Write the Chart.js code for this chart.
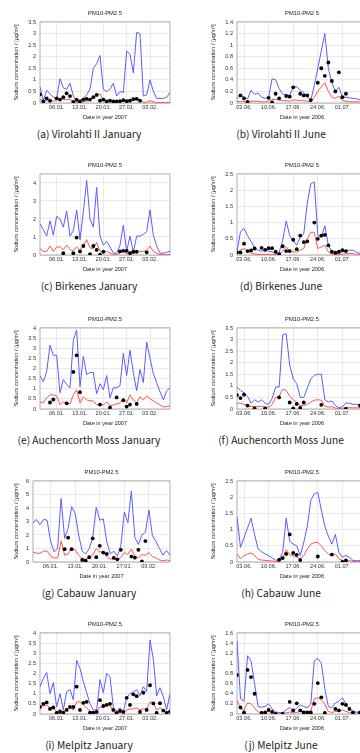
<!DOCTYPE html>
<html>
<head>
<title>Sodium concentration PM10-PM2.5</title>
<script src="https://cdn.jsdelivr.net/npm/chart.js"></script>
<style>
  body { margin: 0; width: 360px; height: 753px; overflow: hidden; background: #fff; position: relative; }
  .panel { position: absolute; width: 180px; height: 122px; }
  .cap { position: absolute; width: 200px; text-align: center; font-family: "Noto Sans CJK KR", "Noto Sans", sans-serif;
         font-size: 10.2px; line-height: 14px; color: #222; white-space: nowrap; }
</style>
</head>
<body>
<script>
// days along the x axis (January runs into February, June into July)
const janDays = [1,2,3,4,5,6,7,8,9,10,11,12,13,14,15,16,17,18,19,20,21,22,23,24,25,26,27,28,29,30,31,32,33,34,35,36,37,38,39,40];
const junDays = [1,2,3,4,5,6,7,8,9,10,11,12,13,14,15,16,17,18,19,20,21,22,23,24,25,26,27,28,29,30,31,32,33,34,35,36,37,38];
const janTickDays = [6,13,20,27,34];
const janTickLabels = ['06.01.','13.01.','20.01.','27.01.','03.02.'];
const junTickDays = [3,10,17,24,31];
const junTickLabels = ['03.06.','10.06.','17.06.','24.06.','01.07.'];

// Virolahti II
const virJanHi = [0.7,0.1,0.55,0.4,0.25,0.2,1.05,0.65,0.6,0.85,0.3,0.05,0.1,0.2,0.35,0.6,1.5,1.7,2.05,0.6,0.5,0.6,0.85,0.3,0.5,0.45,2.25,2.1,1.3,3.05,3.0,0.3,0.35,1.0,0.5,0.2,0.2,0.2,0.25,0.45];
const virJanLo = [0.15,0.1,0.1,0.08,0.08,0.12,0.2,0.15,0.15,0.15,0.05,0.02,0.03,0.05,0.08,0.12,0.25,0.32,0.4,0.1,0.08,0.08,0.1,0.05,0.08,0.07,0.12,0.12,0.1,0.15,0.15,0.03,0.03,0.1,0.05,0.02,0.02,0.02,0.02,0.03];
const virJanObsDay = [1,2,3,4,6,7,8,9,10,11,12,13,14,15,16,17,18,19,20,21,22,23,24,25,26,27,28,29,30,31];
const virJanObs = [0.37,0.07,0.2,0.1,0.2,0.15,0.25,0.42,0.3,0.05,0.15,0.07,0.15,0.18,0.15,0.25,0.35,0.1,0.15,0.07,0.1,0.07,0.07,0.08,0.12,0.08,0.1,0.17,0.18,0.1];
const virJunHi = [0.08,0.13,0.1,0.07,0.22,0.15,0.17,0.1,0.08,0.1,0.42,0.4,0.25,0.15,0.15,0.13,0.28,0.28,0.22,0.18,0.1,0.05,0.3,0.6,0.9,1.2,0.6,0.35,0.2,0.27,0.1,0.1,0.09,0.08,0.07,0.06,0.05,0.05];
const virJunLo = [0.02,0.03,0.03,0.02,0.03,0.03,0.03,0.02,0.02,0.03,0.06,0.06,0.05,0.04,0.04,0.03,0.05,0.05,0.04,0.04,0.03,0.02,0.1,0.2,0.28,0.35,0.2,0.1,0.08,0.12,0.04,0.03,0.02,0.02,0.02,0.02,0.02,0.02];
const virJunObsDay = [2,3,4,10,11,12,13,15,16,17,19,20,21,22,24,25,26,27,28,29,30,31,32];
const virJunObs = [0.13,0.08,0.02,0.09,0.01,0.16,0.08,0.12,0.11,0.27,0.16,0.13,0.13,0.05,0.35,0.6,0.47,0.7,0.38,0.2,0.53,0.1,0.16];

// Birkenes
const birJanHi = [1.75,1.4,1.05,1.9,1.1,2.15,2.0,1.55,2.45,1.05,1.35,2.5,0.85,2.4,4.15,2.0,1.55,3.75,1.05,0.55,0.75,0.45,0.1,0.1,0.55,1.65,0.2,1.05,0.15,1.05,1.05,1.15,1.3,2.5,1.1,0.5,0.1,0.1,0.15,0.2];
const birJanLo = [0.35,0.2,0.2,0.5,0.2,0.45,0.45,0.3,0.55,0.3,0.25,0.45,0.25,0.5,0.85,0.4,0.35,0.7,0.2,0.15,0.2,0.1,0.02,0.02,0.1,0.3,0.05,0.2,0.05,0.2,0.2,0.2,0.25,0.5,0.2,0.1,0.02,0.02,0.02,0.02];
const birJanObsDay = [8,11,12,13,14,16,17,18,19,20,25,26,27,28,29,30,33];
const birJanObs = [0.1,0.1,0.97,0.2,0.5,0.05,0.5,0.28,0.02,0.18,0.2,0.23,0.23,0.1,0.18,0.18,0.15];
const birJunHi = [0.1,0.72,0.82,0.6,0.42,0.22,0.15,0.12,0.15,0.12,0.1,0.05,0.08,0.45,1.05,0.6,0.45,0.3,0.55,0.65,1.6,2.2,2.25,0.6,0.55,0.9,0.3,0.1,0.05,0.05,0.1,0.13,0.15,0.15,0.08,0.05,0.05,0.05];
const birJunLo = [0.05,0.15,0.2,0.12,0.06,0.03,0.02,0.02,0.02,0.02,0.02,0.02,0.02,0.12,0.25,0.12,0.1,0.08,0.15,0.2,0.5,0.7,0.7,0.2,0.25,0.3,0.1,0.03,0.02,0.02,0.02,0.04,0.05,0.04,0.02,0.02,0.02,0.02];
const birJunObsDay = [1,2,3,4,5,6,8,9,10,11,12,13,14,15,16,17,18,19,20,21,23,24,25,26,27,28,29,30,31,32];
const birJunObs = [0.08,0.08,0.35,0.12,0.14,0.2,0.22,0.16,0.21,0.21,0.1,0.03,0.27,0.12,0.12,0.47,0.18,0.6,0.4,0.42,1.0,0.5,0.6,0.62,0.3,0.1,0.07,0.1,0.15,0.12];

// Auchencorth Moss
const aucJanHi = [1.65,1.35,1.85,3.15,2.65,2.65,0.8,1.45,1.2,1.05,3.4,3.9,1.1,2.6,1.7,1.8,1.8,0.75,1.25,0.95,1.65,0.55,1.05,1.05,1.15,2.75,1.65,2.9,1.8,0.9,1.95,1.3,3.3,2.5,1.75,1.3,0.85,0.45,0.9,1.05];
const aucJanLo = [0.35,0.3,0.55,0.7,0.7,0.65,0.2,0.35,0.3,0.25,0.7,0.95,0.3,0.6,0.45,0.4,0.4,0.2,0.25,0.2,0.35,0.15,0.2,0.25,0.3,0.55,0.3,0.7,0.45,0.3,0.6,0.45,0.65,0.5,0.4,0.3,0.2,0.1,0.12,0.15];
const aucJanObsDay = [4,5,9,11,12,13,19,22,24,26,27,28,30];
const aucJanObs = [0.32,0.47,0.28,1.83,2.65,0.83,0.22,0.07,0.57,0.43,0.12,0.22,0.25];
const aucJunHi = [0.95,0.8,0.7,0.55,0.25,0.4,0.3,0.4,0.25,0.2,0.45,0.95,0.95,3.2,3.25,1.9,1.3,1.1,0.5,0.5,0.9,1.3,1.45,1.5,1.5,0.4,0.3,0.35,0.15,0.05,0.1,0.25,0.25,0.2,0.2,0.2,0.18,0.18];
const aucJunLo = [0.25,0.25,0.2,0.15,0.1,0.12,0.1,0.12,0.08,0.08,0.2,0.5,0.55,0.85,0.8,0.55,0.4,0.3,0.15,0.15,0.2,0.3,0.38,0.4,0.38,0.12,0.08,0.1,0.04,0.02,0.03,0.06,0.06,0.05,0.05,0.05,0.05,0.05];
const aucJunObsDay = [1,2,3,4,6,9,13,16,17,18,19,20,25,32,36];
const aucJunObs = [0.6,0.47,0.62,0.15,0.03,0.03,0.5,0.28,0.03,0.22,0.05,0.28,0.18,0.0,0.15];

// Cabauw
const cabJanHi = [2.9,3.15,2.75,3.15,3.1,1.55,0.75,1.0,4.7,1.75,2.5,4.1,3.6,2.0,0.8,0.6,1.0,1.8,4.05,3.1,3.2,1.5,0.6,0.8,0.45,1.2,3.7,2.9,5.25,1.8,1.3,2.0,2.2,3.85,1.95,1.5,1.0,0.5,0.85,0.5];
const cabJanLo = [0.75,0.65,0.65,0.8,0.8,0.45,0.3,0.3,1.55,0.5,0.6,1.0,0.9,0.5,0.25,0.2,0.35,0.5,1.0,0.75,0.75,0.4,0.2,0.3,0.15,0.35,0.7,0.55,0.95,0.45,0.3,0.55,0.5,0.7,0.4,0.3,0.15,0.1,0.15,0.1];
const cabJanObsDay = [10,11,12,15,16,17,18,19,20,21,22,24,25,26,29,30,31,32,33];
const cabJanObs = [0.95,1.8,0.95,0.15,0.1,0.35,1.75,0.35,1.2,0.7,0.6,0.3,0.2,0.9,0.4,0.32,0.9,0.05,1.55];
const cabJunHi = [1.4,0.45,0.75,1.05,1.35,0.85,0.4,0.32,0.25,0.2,0.12,0.06,0.05,0.3,1.35,0.65,0.55,0.5,0.2,0.6,1.1,1.9,2.1,2.15,1.6,1.1,0.8,0.55,0.85,0.3,0.15,0.2,0.15,0.05,0.04,0.04,0.04,0.04];
const cabJunLo = [0.25,0.1,0.2,0.25,0.28,0.2,0.08,0.06,0.05,0.04,0.03,0.02,0.02,0.1,0.38,0.22,0.2,0.15,0.1,0.2,0.4,0.55,0.6,0.6,0.5,0.35,0.25,0.2,0.25,0.1,0.05,0.05,0.04,0.02,0.02,0.02,0.02,0.02];
const cabJunObsDay = [13,14,15,16,17,18,19,24,28,31,32];
const cabJunObs = [0.07,0.12,0.25,0.85,0.28,0.22,0.06,0.17,0.23,0.0,0.05];

// Melpitz
const melJanHi = [1.35,1.75,2.05,1.0,1.55,0.35,1.0,0.2,1.1,1.2,0.7,2.65,2.25,1.6,1.05,0.5,0.2,0.2,1.7,1.05,2.0,1.85,0.3,0.15,0.3,0.1,0.8,1.0,1.1,1.2,0.9,1.35,1.1,3.65,2.7,0.9,1.3,0.85,0.2,1.0];
const melJanLo = [0.35,0.4,0.45,0.3,0.35,0.1,0.25,0.1,0.25,0.3,0.2,0.6,0.6,0.45,0.3,0.15,0.1,0.1,0.35,0.3,0.5,0.45,0.1,0.05,0.1,0.05,0.2,0.25,0.25,0.3,0.2,0.25,0.25,0.6,0.55,0.2,0.3,0.2,0.05,0.2];
const melJanObsDay = [1,2,3,4,5,6,7,8,9,10,11,12,13,14,15,16,17,18,19,20,21,22,23,24,25,26,27,28,29,30,31,32,33,34,35,36,37,38,39,40];
const melJanObs = [0.35,0.5,0.57,0.25,0.32,0.05,0.1,0.07,0.2,0.35,0.35,1.35,0.2,0.55,0.6,0.07,0.07,0.1,0.68,0.4,0.45,0.5,0.2,0.05,0.15,0.1,0.8,0.45,0.97,0.88,0.1,1.05,0.2,1.42,0.52,0.05,0.53,0.17,0.05,0.12];
const melJunHi = [1.45,0.3,0.25,1.15,1.05,0.6,0.15,0.13,0.15,0.2,0.1,0.04,0.03,0.03,0.08,0.13,0.05,0.12,0.18,0.15,0.12,0.2,1.05,1.1,1.0,0.5,0.15,0.12,0.22,0.25,0.32,0.2,0.1,0.05,0.04,0.03,0.03,0.03];
const melJunLo = [0.28,0.1,0.08,0.22,0.2,0.12,0.04,0.03,0.04,0.05,0.03,0.02,0.02,0.02,0.02,0.04,0.02,0.03,0.05,0.05,0.04,0.06,0.3,0.32,0.28,0.2,0.05,0.03,0.05,0.06,0.08,0.05,0.03,0.02,0.02,0.02,0.02,0.02];
const melJunObsDay = [1,2,3,4,5,6,8,9,10,11,12,14,16,17,18,19,20,21,22,23,24,25,26,29,30,31,32,33,34,36];
const melJunObs = [0.77,0.13,0.03,0.87,0.73,0.4,0.02,0.03,0.08,0.04,0.0,0.0,0.24,0.07,0.21,0.07,0.03,0.03,0.03,0.2,0.61,0.33,0.02,0.1,0.07,0.2,0.18,0.1,0.03,0.03];

const SMALL = { family: '"Liberation Sans", Arial, sans-serif', size: 5.6 };
Chart.defaults.color = '#333';

// grey box around the plotting area
const frame = {
  id: 'frame',
  beforeDatasetsDraw(chart) {
    const a = chart.chartArea, ctx = chart.ctx;
    ctx.save();
    ctx.strokeStyle = '#9c9c9c';
    ctx.lineWidth = 0.8;
    ctx.strokeRect(a.left, a.top, a.right - a.left, a.bottom - a.top);
    ctx.restore();
  }
};

function pts(days, vals) {
  return vals.map((v, i) => ({ x: days[i], y: v }));
}

function panel(p) {
  const jan = p.month === 'jan';
  const days = jan ? janDays : junDays;
  const tickDays = jan ? janTickDays : junTickDays;
  const tickLabels = jan ? janTickLabels : junTickLabels;

  const box = document.createElement('div');
  box.className = 'panel';
  box.style.left = p.left + 'px';
  box.style.top = p.top + 'px';
  const canvas = document.createElement('canvas');
  canvas.width = 180;
  canvas.height = 122;
  box.appendChild(canvas);
  document.body.appendChild(box);

  const cap = document.createElement('div');
  cap.className = 'cap';
  cap.textContent = p.caption;
  cap.style.left = (p.capX - 100) + 'px';
  cap.style.top = (p.top + 134 - 7) + 'px';
  document.body.appendChild(cap);

  new Chart(canvas.getContext('2d'), {
    type: 'line',
    data: {
      datasets: [
        { data: pts(p.obsDay, p.obs), showLine: false, pointRadius: 1.9, pointBackgroundColor: '#000',
          pointBorderWidth: 0, borderColor: '#000' },
        { data: pts(days, p.hi), borderColor: '#5c5cff', borderWidth: 1, pointRadius: 0, tension: 0 },
        { data: pts(days, p.lo), borderColor: '#ff5252', borderWidth: 1, pointRadius: 0, tension: 0 }
      ]
    },
    options: {
      responsive: false,
      animation: false,
      layout: { padding: { left: 0, right: 10, top: 0, bottom: 0 } },
      plugins: {
        legend: { display: false },
        tooltip: { enabled: false },
        title: { display: true, text: 'PM10-PM2.5', fullSize: false, color: '#222',
                 font: { family: SMALL.family, size: 5.8, weight: 'normal' }, padding: { top: 10, bottom: 5 } }
      },
      scales: {
        x: {
          type: 'linear', min: 1, max: jan ? 40 : 38,
          afterBuildTicks: s => { s.ticks = tickDays.map(v => ({ value: v })); },
          afterFit: s => { s.height = 19; },
          ticks: { font: SMALL, padding: 1.5, autoSkip: false, maxRotation: 0,
                   callback: v => tickLabels[tickDays.indexOf(v)] },
          grid: { color: '#e4e4e4', lineWidth: 0.8, drawTicks: false },
          border: { display: false },
          title: { display: true, text: jan ? 'Date in year 2007' : 'Date in year 2006', font: SMALL,
                   color: '#222', padding: { top: 0, bottom: 1.3 } }
        },
        y: {
          min: 0, max: p.yMax,
          afterFit: s => { s.width = p.yWidth; },
          ticks: { font: SMALL, padding: 4, stepSize: p.yStep, callback: v => String(+v.toFixed(2)) },
          grid: { color: '#e4e4e4', lineWidth: 0.8, drawTicks: false },
          border: { display: false },
          title: { display: true, text: 'Sodium concentration / [µg/m³]', font: SMALL,
                   color: '#222', padding: { top: 13.1, bottom: 0 } }
        }
      }
    },
    plugins: [frame]
  });
}

const L = 0, R = 197, capL = 89, capR = 281;
const panels = [
  { caption: '(a) Virolahti II January', month: 'jan', left: L, top: 0, capX: capL, hi: virJanHi, lo: virJanLo, obsDay: virJanObsDay, obs: virJanObs, yMax: 3.5, yStep: 0.5, yWidth: 40 },
  { caption: '(b) Virolahti II June', month: 'jun', left: R, top: 0, capX: capR, hi: virJunHi, lo: virJunLo, obsDay: virJunObsDay, obs: virJunObs, yMax: 1.4, yStep: 0.2, yWidth: 40 },
  { caption: '(c) Birkenes January', month: 'jan', left: L, top: 152, capX: capL, hi: birJanHi, lo: birJanLo, obsDay: birJanObsDay, obs: birJanObs, yMax: 4.5, yStep: 0.5, yWidth: 40 },
  { caption: '(d) Birkenes June', month: 'jun', left: R, top: 152, capX: capR, hi: birJunHi, lo: birJunLo, obsDay: birJunObsDay, obs: birJunObs, yMax: 2.5, yStep: 0.5, yWidth: 40 },
  { caption: '(e) Auchencorth Moss January', month: 'jan', left: L, top: 306, capX: capL, hi: aucJanHi, lo: aucJanLo, obsDay: aucJanObsDay, obs: aucJanObs, yMax: 4, yStep: 0.5, yWidth: 40 },
  { caption: '(f) Auchencorth Moss June', month: 'jun', left: R, top: 306, capX: capR, hi: aucJunHi, lo: aucJunLo, obsDay: aucJunObsDay, obs: aucJunObs, yMax: 3.5, yStep: 0.5, yWidth: 40 },
  { caption: '(g) Cabauw January', month: 'jan', left: L, top: 459, capX: capL, hi: cabJanHi, lo: cabJanLo, obsDay: cabJanObsDay, obs: cabJanObs, yMax: 6, yStep: 1, yWidth: 33 },
  { caption: '(h) Cabauw June', month: 'jun', left: R, top: 459, capX: capR, hi: cabJunHi, lo: cabJunLo, obsDay: cabJunObsDay, obs: cabJunObs, yMax: 2.5, yStep: 0.5, yWidth: 40 },
  { caption: '(i) Melpitz January', month: 'jan', left: L, top: 611, capX: capL, hi: melJanHi, lo: melJanLo, obsDay: melJanObsDay, obs: melJanObs, yMax: 4, yStep: 0.5, yWidth: 40 },
  { caption: '(j) Melpitz June', month: 'jun', left: R, top: 611, capX: capR, hi: melJunHi, lo: melJunLo, obsDay: melJunObsDay, obs: melJunObs, yMax: 1.6, yStep: 0.2, yWidth: 40 }
];
panels.forEach(panel);
</script>
</body>
</html>
